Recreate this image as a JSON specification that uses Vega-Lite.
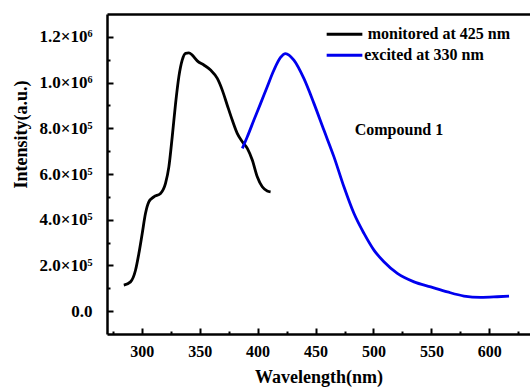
{
  "$schema": "https://vega.github.io/schema/vega-lite/v6.json",
  "autosize": {"type": "none"},
  "padding": {"left": 107, "top": 14, "right": 0, "bottom": 57},
  "width": 423,
  "height": 320,
  "background": "white",
  "config": {
    "view": {"stroke": null},
    "axis": {
      "labelFont": "Liberation Serif",
      "labelFontWeight": "bold",
      "labelFontSize": 16,
      "labelColor": "black",
      "titleFont": "Liberation Serif",
      "titleFontWeight": "bold",
      "titleFontSize": 18,
      "titleColor": "black",
      "domainColor": "black",
      "domainWidth": 2.5,
      "tickColor": "black",
      "tickWidth": 2,
      "grid": false
    }
  },
  "resolve": {"axis": {"x": "independent", "y": "independent"}},
  "datasets": {
    "spectra": [
      {"series": "monitored at 425 nm", "wavelength": 284.5, "intensity": 114000},
      {"series": "monitored at 425 nm", "wavelength": 290.3, "intensity": 128000},
      {"series": "monitored at 425 nm", "wavelength": 294.6, "intensity": 179000},
      {"series": "monitored at 425 nm", "wavelength": 297.5, "intensity": 252000},
      {"series": "monitored at 425 nm", "wavelength": 300.4, "intensity": 340000},
      {"series": "monitored at 425 nm", "wavelength": 303.2, "intensity": 427000},
      {"series": "monitored at 425 nm", "wavelength": 306.1, "intensity": 478000},
      {"series": "monitored at 425 nm", "wavelength": 310.4, "intensity": 500000},
      {"series": "monitored at 425 nm", "wavelength": 316.2, "intensity": 515000},
      {"series": "monitored at 425 nm", "wavelength": 320.5, "intensity": 559000},
      {"series": "monitored at 425 nm", "wavelength": 323.4, "intensity": 631000},
      {"series": "monitored at 425 nm", "wavelength": 326.3, "intensity": 763000},
      {"series": "monitored at 425 nm", "wavelength": 329.2, "intensity": 909000},
      {"series": "monitored at 425 nm", "wavelength": 332.0, "intensity": 1025000},
      {"series": "monitored at 425 nm", "wavelength": 334.9, "intensity": 1098000},
      {"series": "monitored at 425 nm", "wavelength": 337.8, "intensity": 1128000},
      {"series": "monitored at 425 nm", "wavelength": 340.6, "intensity": 1130000},
      {"series": "monitored at 425 nm", "wavelength": 343.6, "intensity": 1120000},
      {"series": "monitored at 425 nm", "wavelength": 347.9, "intensity": 1095000},
      {"series": "monitored at 425 nm", "wavelength": 353.6, "intensity": 1077000},
      {"series": "monitored at 425 nm", "wavelength": 359.4, "intensity": 1055000},
      {"series": "monitored at 425 nm", "wavelength": 365.2, "intensity": 1018000},
      {"series": "monitored at 425 nm", "wavelength": 369.5, "intensity": 967000},
      {"series": "monitored at 425 nm", "wavelength": 373.8, "intensity": 901000},
      {"series": "monitored at 425 nm", "wavelength": 378.1, "intensity": 836000},
      {"series": "monitored at 425 nm", "wavelength": 382.4, "intensity": 778000},
      {"series": "monitored at 425 nm", "wavelength": 386.8, "intensity": 741000},
      {"series": "monitored at 425 nm", "wavelength": 391.1, "intensity": 712000},
      {"series": "monitored at 425 nm", "wavelength": 395.4, "intensity": 661000},
      {"series": "monitored at 425 nm", "wavelength": 399.7, "intensity": 588000},
      {"series": "monitored at 425 nm", "wavelength": 404.0, "intensity": 544000},
      {"series": "monitored at 425 nm", "wavelength": 408.3, "intensity": 526000},
      {"series": "monitored at 425 nm", "wavelength": 411.2, "intensity": 522000},
      {"series": "excited at 330 nm", "wavelength": 386.8, "intensity": 712000},
      {"series": "excited at 330 nm", "wavelength": 391.1, "intensity": 763000},
      {"series": "excited at 330 nm", "wavelength": 396.8, "intensity": 836000},
      {"series": "excited at 330 nm", "wavelength": 402.6, "intensity": 909000},
      {"series": "excited at 330 nm", "wavelength": 408.3, "intensity": 982000},
      {"series": "excited at 330 nm", "wavelength": 414.1, "intensity": 1055000},
      {"series": "excited at 330 nm", "wavelength": 419.8, "intensity": 1110000},
      {"series": "excited at 330 nm", "wavelength": 424.1, "intensity": 1127000},
      {"series": "excited at 330 nm", "wavelength": 431.3, "intensity": 1098000},
      {"series": "excited at 330 nm", "wavelength": 439.9, "intensity": 1018000},
      {"series": "excited at 330 nm", "wavelength": 448.6, "intensity": 909000},
      {"series": "excited at 330 nm", "wavelength": 457.2, "intensity": 792000},
      {"series": "excited at 330 nm", "wavelength": 465.9, "intensity": 675000},
      {"series": "excited at 330 nm", "wavelength": 474.5, "intensity": 544000},
      {"series": "excited at 330 nm", "wavelength": 483.1, "intensity": 428000},
      {"series": "excited at 330 nm", "wavelength": 491.8, "intensity": 340000},
      {"series": "excited at 330 nm", "wavelength": 500.4, "intensity": 267000},
      {"series": "excited at 330 nm", "wavelength": 509.0, "intensity": 216000},
      {"series": "excited at 330 nm", "wavelength": 520.6, "intensity": 165000},
      {"series": "excited at 330 nm", "wavelength": 535.0, "intensity": 128000},
      {"series": "excited at 330 nm", "wavelength": 549.4, "intensity": 106000},
      {"series": "excited at 330 nm", "wavelength": 563.8, "intensity": 84000},
      {"series": "excited at 330 nm", "wavelength": 578.1, "intensity": 66000},
      {"series": "excited at 330 nm", "wavelength": 592.5, "intensity": 60000},
      {"series": "excited at 330 nm", "wavelength": 606.9, "intensity": 63000},
      {"series": "excited at 330 nm", "wavelength": 617.0, "intensity": 66000}
    ],
    "legend": [
      {"series": "monitored at 425 nm", "start": 459.6, "end": 490.4, "level": 1211000, "textAt": 495},
      {"series": "excited at 330 nm", "start": 459.6, "end": 490.4, "level": 1120000, "textAt": 492}
    ],
    "notes": [
      {"note": "Compound 1", "wavelength": 522, "intensity": 792000}
    ]
  },
  "layer": [
    {
      "data": {"name": "spectra"},
      "mark": {"type": "line", "strokeWidth": 2.8, "interpolate": "monotone"},
      "encoding": {
        "x": {
          "field": "wavelength", "type": "quantitative",
          "scale": {"domain": [270, 635.1], "nice": false, "zero": false},
          "axis": {
            "orient": "bottom",
            "title": "Wavelength(nm)",
            "values": [300, 350, 400, 450, 500, 550, 600],
            "tickSize": -6,
            "labelPadding": 15,
            "titlePadding": 9
          }
        },
        "y": {
          "field": "intensity", "type": "quantitative",
          "scale": {"domain": [-100000, 1300000], "nice": false, "zero": false},
          "axis": {
            "orient": "left",
            "title": "Intensity(a.u.)",
            "values": [0, 200000, 400000, 600000, 800000, 1000000, 1200000],
            "labelExpr": "datum.value === 0 ? '0.0' : datum.value === 200000 ? '2.0×10⁵' : datum.value === 400000 ? '4.0×10⁵' : datum.value === 600000 ? '6.0×10⁵' : datum.value === 800000 ? '8.0×10⁵' : datum.value === 1000000 ? '1.0×10⁶' : '1.2×10⁶'",
            "labelFontSize": 17,
            "tickSize": -6,
            "labelPadding": 21,
            "titleX": -77,
            "titleY": 120,
            "titleAngle": -90,
            "titleAlign": "center",
            "titleBaseline": "bottom"
          }
        },
        "color": {
          "field": "series", "type": "nominal",
          "scale": {"domain": ["monitored at 425 nm", "excited at 330 nm"], "range": ["#000000", "#0000ee"]},
          "legend": null
        }
      }
    },
    {
      "data": {"name": "legend"},
      "mark": {"type": "rule", "strokeWidth": 3},
      "encoding": {
        "x": {"field": "start", "type": "quantitative", "axis": {"orient": "top", "labels": false, "ticks": false, "title": null, "domain": true}},
        "x2": {"field": "end"},
        "y": {"field": "level", "type": "quantitative", "axis": {"orient": "left", "labels": false, "domain": false, "title": null, "tickSize": -3, "values": [100000, 300000, 500000, 700000, 900000, 1100000]}},
        "color": {"field": "series", "type": "nominal", "legend": null}
      }
    },
    {
      "data": {"name": "legend"},
      "mark": {"type": "text", "align": "left", "baseline": "middle", "font": "Liberation Serif", "fontWeight": "bold", "fontSize": 16, "color": "black"},
      "encoding": {
        "x": {"field": "textAt", "type": "quantitative", "axis": {"orient": "bottom", "labels": false, "domain": false, "title": null, "tickSize": -3, "values": [275, 325, 375, 425, 475, 525, 575, 625]}},
        "y": {"field": "level", "type": "quantitative", "axis": null},
        "text": {"field": "series"}
      }
    },
    {
      "data": {"name": "notes"},
      "mark": {"type": "text", "align": "center", "baseline": "middle", "font": "Liberation Serif", "fontWeight": "bold", "fontSize": 16, "color": "black"},
      "encoding": {
        "x": {"field": "wavelength", "type": "quantitative", "axis": null},
        "y": {"field": "intensity", "type": "quantitative", "axis": null},
        "text": {"field": "note"}
      }
    }
  ]
}
